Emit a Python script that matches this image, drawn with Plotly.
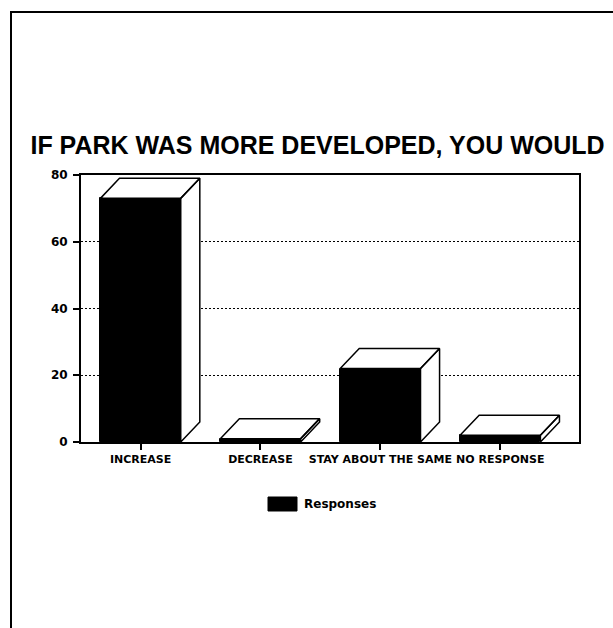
import plotly.graph_objects as go

# Survey responses: "If park was more developed, you would..."
categories = ["INCREASE", "DECREASE", "STAY ABOUT THE SAME", "NO RESPONSE"]
responses = [73, 1, 22, 2]
y_ticks = [0, 20, 40, 60, 80]
series_name = "Responses"
title_text = "IF PARK WAS MORE DEVELOPED, YOU WOULD"

# plot-area geometry in pixels (613 x 628 page)
W, H = 613, 628
L, R, T, B = 81, 579, 175, 442
x_range = [-0.497, 3.657]
y_range = [0, 80]
bar_w = 0.67
# pseudo-3D depth offsets, in data units
depth_x = 0.159
depth_y = 6.0

xs = list(range(len(categories)))

fig = go.Figure()

# front faces of the bars
fig.add_trace(go.Bar(
    x=xs, y=responses, width=bar_w, name=series_name,
    marker=dict(color="black", line=dict(color="black", width=1)),
    showlegend=False, hoverinfo="x+y",
))

# top and side faces (white, outlined) built from the bar values
px, py = [], []
for x, v in zip(xs, responses):
    x0, x1 = x - bar_w / 2, x + bar_w / 2
    top = [(x0, v), (x1, v), (x1 + depth_x, v + depth_y), (x0 + depth_x, v + depth_y), (x0, v)]
    side = [(x1, 0), (x1 + depth_x, depth_y), (x1 + depth_x, v + depth_y), (x1, v), (x1, 0)]
    for poly in (top, side):
        px += [p[0] for p in poly] + [None]
        py += [p[1] for p in poly] + [None]
fig.add_trace(go.Scatter(
    x=px, y=py, mode="lines", fill="toself", fillcolor="white",
    line=dict(color="black", width=1.5), showlegend=False, hoverinfo="skip",
))

x_font = dict(family="DejaVu Sans", size=11, color="black", weight=700)
y_font = dict(family="DejaVu Sans", size=12, color="black", weight=700)

fig.update_xaxes(
    range=x_range, tickmode="array", tickvals=xs, ticktext=categories,
    tickangle=0, ticks="outside", ticklen=6, tickwidth=2, tickcolor="black",
    showline=True, mirror=True, linecolor="black", linewidth=2,
    showgrid=False, zeroline=False, tickfont=x_font, fixedrange=True,
)
fig.update_yaxes(
    range=y_range, tickmode="array", tickvals=y_ticks,
    ticks="outside", ticklen=6, tickwidth=2, tickcolor="black",
    showline=True, mirror=True, linecolor="black", linewidth=2,
    showgrid=True, gridcolor="black", gridwidth=1, griddash="2px,2px",
    zeroline=False, tickfont=y_font, ticklabelstandoff=3, fixedrange=True,
)

pw, ph = R - L, B - T


def paper_x(p):
    return (p - L) / pw


def paper_y(p):
    return (B - p) / ph


shapes = [
    # outer frame: top and left edges
    dict(type="line", xref="paper", yref="paper",
         x0=paper_x(10), x1=paper_x(613), y0=paper_y(12), y1=paper_y(12),
         line=dict(color="black", width=2)),
    dict(type="line", xref="paper", yref="paper",
         x0=paper_x(11), x1=paper_x(11), y0=paper_y(12), y1=paper_y(628),
         line=dict(color="black", width=2)),
    # legend swatch
    dict(type="rect", xref="paper", yref="paper",
         x0=paper_x(268), x1=paper_x(297), y0=paper_y(497), y1=paper_y(511),
         fillcolor="black", line=dict(color="black", width=1)),
]

annotations = [
    dict(text=series_name, xref="paper", yref="paper",
         x=paper_x(302), y=paper_y(504), xanchor="left", yanchor="middle",
         showarrow=False,
         font=dict(family="DejaVu Sans", size=12, color="black", weight=700)),
]

fig.update_layout(
    width=W, height=H,
    margin=dict(l=L, r=W - R, t=T, b=H - B, pad=0),
    paper_bgcolor="white", plot_bgcolor="white",
    title=dict(text=title_text, x=317.5 / W, xanchor="center",
               y=1 - 145 / H, yanchor="middle", xref="container", yref="container",
               font=dict(family="Liberation Sans", size=25, color="black", weight=700)),
    shapes=shapes, annotations=annotations,
    showlegend=False, bargap=0,
)

fig.write_html("out.html")
